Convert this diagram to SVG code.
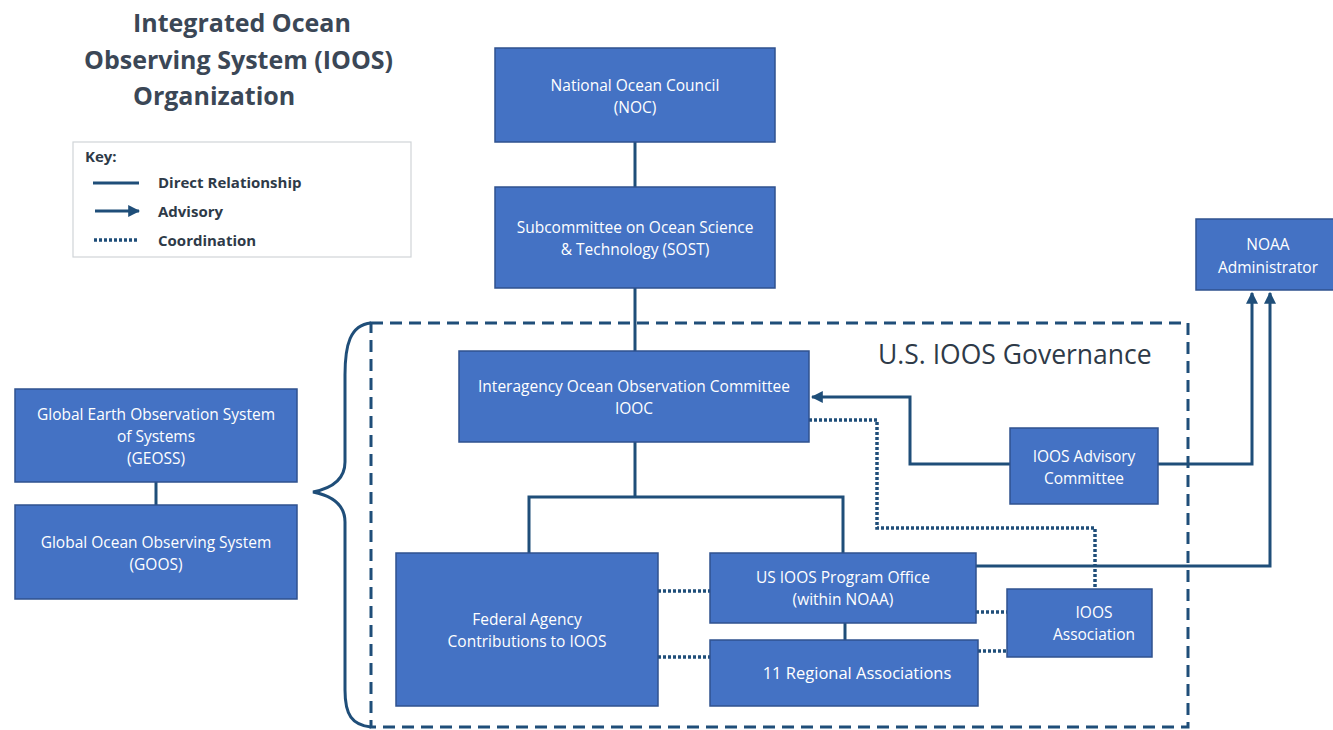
<svg xmlns="http://www.w3.org/2000/svg" width="1333" height="730" viewBox="0 0 1333 730">
<defs>
<style>
.node rect{fill:#4472c4;stroke:#2f528f;stroke-width:1.5}
.node text{fill:#ffffff;font-family:"Open Sans","Liberation Sans",sans-serif;font-size:15.5px;text-anchor:middle}
.title{fill:#3b4756;font-family:"Open Sans","Liberation Sans",sans-serif;font-size:25px;font-weight:bold}
.key{fill:#2e3a48;font-family:"Open Sans","Liberation Sans",sans-serif;font-size:15px;font-weight:bold}
.solid{fill:none;stroke:#1f4e79;stroke-width:3}
.dot{fill:none;stroke:#1f4e79;stroke-width:3.5;stroke-dasharray:3 2}
.dash{fill:none;stroke:#1f4e79;stroke-width:3;stroke-dasharray:12 7}
</style>
<marker id="arr" viewBox="0 0 10 10" refX="9" refY="5" markerWidth="4" markerHeight="4" orient="auto-start-reverse">
<path d="M0,0 L10,5 L0,10 z" fill="#1f4e79"/>
</marker>
</defs>
<rect width="1333" height="730" fill="#ffffff"/>

<g id="title">
<text class="title" x="133" y="32">Integrated Ocean</text>
<text class="title" x="84" y="69">Observing System (IOOS)</text>
<text class="title" x="133" y="105">Organization</text>
</g>

<g id="key">
<rect x="73" y="142" width="338" height="115" fill="#ffffff" stroke="#d0d4d8" stroke-width="1.2"/>
<text class="key" x="85" y="162">Key:</text>
<line class="solid" x1="93" y1="183" x2="139" y2="183"/>
<text class="key" x="158" y="188">Direct Relationship</text>
<line class="solid" x1="95" y1="211" x2="139" y2="211" marker-end="url(#arr)"/>
<text class="key" x="158" y="217">Advisory</text>
<line class="dot" x1="94" y1="240" x2="139" y2="240"/>
<text class="key" x="158" y="246">Coordination</text>
</g>

<g id="governance">
<rect class="dash" x="371" y="323" width="817" height="404"/>
<text x="878" y="364" fill="#2e3a48" font-family="'Open Sans','Liberation Sans',sans-serif" font-size="26.5">U.S. IOOS Governance</text>
<path class="solid" d="M371,323 C350,325 345,345 345,375 L345,462 C345,478 333,488 313,492 C333,496 345,506 345,522 L345,690 C345,715 352,725 371,727"/>
</g>

<g id="connectors">
<line class="solid" x1="635" y1="142" x2="635" y2="187"/>
<line class="solid" x1="635" y1="288" x2="635" y2="351"/>
<line class="solid" x1="635" y1="442" x2="635" y2="497"/>
<polyline class="solid" points="529,553 529,497 843,497 843,553"/>
<line class="solid" x1="845" y1="623" x2="845" y2="640"/>
<line class="solid" x1="156" y1="482" x2="156" y2="505"/>
<polyline class="solid" points="1010,464 910,464 910,397 812,397" marker-end="url(#arr)"/>
<polyline class="solid" points="1158,464 1252,464 1252,293" marker-end="url(#arr)"/>
<polyline class="solid" points="976,566 1270,566 1270,293" marker-end="url(#arr)"/>
<polyline class="dot" points="809,420 877,420 877,528 1095,528 1095,589"/>
<line class="dot" x1="658" y1="591" x2="710" y2="591"/>
<line class="dot" x1="658" y1="657" x2="710" y2="657"/>
<line class="dot" x1="976" y1="612" x2="1007" y2="612"/>
<line class="dot" x1="978" y1="651" x2="1007" y2="651"/>
</g>

<g id="noc" class="node">
<rect x="495" y="48" width="280" height="94"/>
<text x="635" y="91">National Ocean Council</text>
<text x="635" y="113">(NOC)</text>
</g>
<g id="sost" class="node">
<rect x="495" y="187" width="280" height="101"/>
<text x="635" y="233">Subcommittee on Ocean Science</text>
<text x="635" y="255">&amp; Technology (SOST)</text>
</g>
<g id="noaa" class="node">
<rect x="1196" y="219" width="140" height="71"/>
<text x="1268" y="250">NOAA</text>
<text x="1268" y="273">Administrator</text>
</g>
<g id="iooc" class="node">
<rect x="459" y="351" width="350" height="91"/>
<text x="634" y="392">Interagency Ocean Observation Committee</text>
<text x="634" y="414">IOOC</text>
</g>
<g id="advisory" class="node">
<rect x="1010" y="428" width="148" height="76"/>
<text x="1084" y="462">IOOS Advisory</text>
<text x="1084" y="484">Committee</text>
</g>
<g id="geoss" class="node">
<rect x="15" y="389" width="282" height="93"/>
<text x="156" y="420">Global Earth Observation System</text>
<text x="156" y="442">of Systems</text>
<text x="156" y="464">(GEOSS)</text>
</g>
<g id="goos" class="node">
<rect x="15" y="505" width="282" height="94"/>
<text x="156" y="548">Global Ocean Observing System</text>
<text x="156" y="570">(GOOS)</text>
</g>
<g id="federal" class="node">
<rect x="396" y="553" width="262" height="153"/>
<text x="527" y="625">Federal Agency</text>
<text x="527" y="647">Contributions to IOOS</text>
</g>
<g id="program" class="node">
<rect x="710" y="553" width="266" height="70"/>
<text x="843" y="583">US IOOS Program Office</text>
<text x="843" y="605">(within NOAA)</text>
</g>
<g id="regional" class="node">
<rect x="710" y="640" width="268" height="66"/>
<text x="857" y="679" style="font-size:16.5px">11 Regional Associations</text>
</g>
<g id="association" class="node">
<rect x="1007" y="589" width="145" height="68"/>
<text x="1094" y="618">IOOS</text>
<text x="1094" y="640">Association</text>
</g>
</svg>
